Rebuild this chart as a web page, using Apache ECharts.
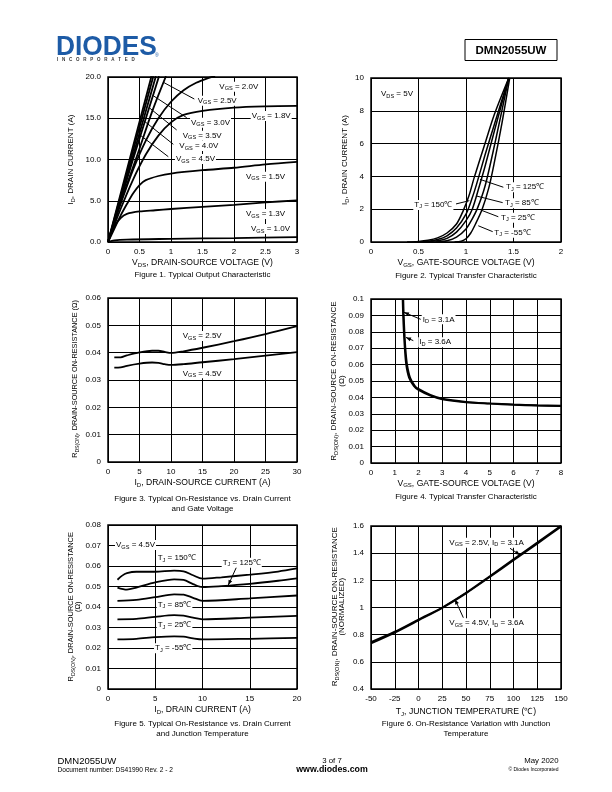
<!DOCTYPE html>
<html><head><meta charset="utf-8">
<script src="https://cdn.jsdelivr.net/npm/echarts@6/dist/echarts.min.js"></script>
<style>html,body{margin:0;padding:0;background:#fff}#c{width:612px;height:792px}</style>
</head><body><div id="c"></div>
<script>
const F = 'Liberation Sans, Arial, Helvetica, sans-serif';

// ---------- Figure 1: ID vs VDS ----------
const f1_vgs10 = [[0,0],[0.1,0.2],[0.3,0.3],[1,0.38],[2,0.48],[3,0.58]];
const f1_vgs13 = [[0,0],[0.05,1.0],[0.1,1.9],[0.2,2.9],[0.3,3.4],[0.5,3.7],[0.75,3.85],[1,4.0],[1.5,4.25],[2,4.5],[2.5,4.8],[3,5.05]];
const f1_vgs15 = [[0,0],[0.1,1.6],[0.2,3.2],[0.3,4.6],[0.4,5.9],[0.5,6.9],[0.6,7.5],[0.8,8.0],[1,8.3],[1.5,8.7],[2,9.0],[2.5,9.4],[3,9.7]];
const f1_vgs18 = [[0,0],[0.2,4.0],[0.4,7.6],[0.6,10.6],[0.8,12.9],[1,14.5],[1.2,15.4],[1.5,15.9],[2,16.3],[2.5,16.45],[3,16.5]];
const f1_vgs20 = [[0,0],[0.2,4.6],[0.4,8.8],[0.6,12.3],[0.8,15.0],[1,17.0],[1.2,18.4],[1.4,19.3],[1.6,19.9],[1.7,20.1]];
const f1_vgs25 = [[0,0],[0.2,4.8],[0.45,10.2],[0.7,15.8],[0.92,20.1]];
const f1_vgs30 = [[0,0],[0.4,10.1],[0.81,20.1]];
const f1_vgs35 = [[0,0],[0.38,10.0],[0.76,20.1]];
const f1_vgs40 = [[0,0],[0.36,10.0],[0.72,20.1]];
const f1_vgs45 = [[0,0],[0.35,10.2],[0.69,20.1]];

// ---------- Figure 2: ID vs VGS ----------
const f2_tj150 = [[0.38,0],[0.5,0.03],[0.6,0.1],[0.7,0.25],[0.8,0.55],[0.9,1.1],[0.97,1.9],[1.03,2.8],[1.09,4.0],[1.2,6.0],[1.3,7.8],[1.45,10]];
const f2_tj125 = [[0.45,0],[0.6,0.05],[0.7,0.15],[0.8,0.38],[0.9,0.85],[1.0,1.7],[1.06,2.6],[1.11,3.5],[1.2,5.3],[1.3,7.2],[1.45,10]];
const f2_tj85  = [[0.55,0],[0.7,0.07],[0.8,0.22],[0.9,0.6],[1.0,1.3],[1.066,2.0],[1.14,3.4],[1.2,4.6],[1.3,6.8],[1.45,10]];
const f2_tj25  = [[0.68,0],[0.8,0.08],[0.9,0.3],[1.0,0.8],[1.06,1.35],[1.12,2.05],[1.2,3.4],[1.3,5.9],[1.45,10]];
const f2_tjm55 = [[0.88,0],[0.95,0.05],[1.0,0.2],[1.05,0.55],[1.1,1.1],[1.17,2.0],[1.24,3.3],[1.3,4.9],[1.38,7.3],[1.46,10]];

// ---------- Figure 3: RDS(on) vs ID ----------
const f3_vgs25 = [[1,0.0383],[2,0.0383],[3,0.039],[5,0.0401],[7,0.0407],[8,0.0407],[9,0.0403],[10,0.0399],[12,0.0405],[15,0.0418],[20,0.0442],[25,0.0468],[30,0.0497]];
const f3_vgs45 = [[1,0.0345],[2,0.0346],[3,0.0352],[5,0.036],[7,0.0364],[8,0.0363],[9,0.0358],[10,0.0355],[12,0.0358],[15,0.0365],[20,0.0376],[25,0.0389],[30,0.0402]];

// ---------- Figure 4: RDS(on) vs VGS ----------
const f4_id31 = [[1.33,0.1],[1.35,0.09],[1.38,0.08],[1.42,0.07],[1.48,0.06],[1.6,0.052],[1.8,0.047],[2,0.0445],[2.5,0.041],[3,0.0388],[4,0.037],[5,0.0362],[6,0.0355],[7,0.035],[8,0.0347]];
const f4_id36 = [[1.36,0.1],[1.38,0.09],[1.41,0.08],[1.45,0.07],[1.52,0.06],[1.65,0.052],[1.85,0.047],[2,0.0452],[2.5,0.0415],[3,0.0392],[4,0.0373],[5,0.0364],[6,0.0357],[7,0.0352],[8,0.0349]];

// ---------- Figure 5: RDS(on) vs ID, TJ ----------
const f5_tj150 = [[1,0.0533],[1.5,0.0553],[2,0.0565],[3,0.0572],[5,0.0572],[7,0.0577],[8,0.0574],[9,0.0555],[10,0.0538],[12,0.0545],[15,0.0558],[18,0.0573],[20,0.0588]];
const f5_tj125 = [[1,0.0495],[2,0.0485],[3,0.0495],[5,0.052],[7,0.0535],[8,0.0532],[9,0.0512],[10,0.0497],[12,0.0502],[15,0.0513],[18,0.0528],[20,0.054]];
const f5_tj85  = [[1,0.043],[3,0.0435],[5,0.0448],[7,0.0462],[8,0.046],[9,0.0445],[10,0.043],[15,0.0442],[20,0.0456]];
const f5_tj25  = [[1,0.034],[3,0.0342],[5,0.0352],[7,0.036],[8,0.0358],[9,0.0348],[10,0.034],[15,0.0348],[20,0.0357]];
const f5_tjm55 = [[1,0.0242],[3,0.0245],[5,0.0253],[7,0.0257],[8,0.0255],[9,0.0247],[10,0.0242],[15,0.0245],[20,0.0249]];

// ---------- Figure 6: normalized RDS(on) vs TJ ----------
const f6_vgs25 = [[-50,0.745],[-25,0.822],[0,0.912],[25,1.0],[50,1.108],[75,1.23],[100,1.355],[125,1.478],[150,1.602]];
const f6_vgs45 = [[-50,0.735],[-25,0.815],[0,0.905],[25,0.997],[50,1.104],[75,1.224],[100,1.347],[125,1.47],[150,1.595]];

// annotation anchors (data coordinates): [text, x, y]
const f1_labels = [['V_{GS} = 2.0V',1.751,18.82],['V_{GS} = 2.5V',1.408,17.13],['V_{GS} = 3.0V',1.302,14.46],['V_{GS} = 3.5V',1.17,12.88],['V_{GS} = 4.0V',1.116,11.64],['V_{GS} = 4.5V',1.063,10.06],['V_{GS} = 1.8V',2.265,15.27],['V_{GS} = 1.5V',2.175,7.92],['V_{GS} = 1.3V',2.175,3.39],['V_{GS} = 1.0V',2.254,1.58]];
const f1_leaders = [[1.37,17.33,0.878,19.36],[1.249,15.07,0.719,17.73],[1.09,13.58,0.667,16.2],[1.037,11.84,0.587,14.58],[0.957,10.34,0.508,12.97]];
const f2_labels = [['V_{DS} = 5V',0.095,9.02],['T_{J} = 125℃',1.411,3.34],['T_{J} = 85℃',1.4,2.36],['T_{J} = 25℃',1.358,1.48],['T_{J} = -55℃',1.287,0.57],['T_{J} = 150℃',0.445,2.26]];
const f2_leaders = [[1.393,3.34,1.147,3.82],[1.386,2.40,1.113,2.80],[1.34,1.54,1.155,1.95],[1.281,0.63,1.129,0.99],[0.895,2.32,1.035,2.52]];
const f3_labels = [['V_{GS} = 2.5V',11.7,0.0461],['V_{GS} = 4.5V',11.7,0.03245]];
const f4_labels = [['I_{D} = 3.1A',2.135,0.0876],['I_{D} = 3.6A',1.99,0.0736]];
const f4_arrows = [[2.093,0.0876,1.389,0.0919],[1.781,0.0746,1.474,0.0766]];
const f5_labels = [['V_{GS} = 4.5V',0.741,0.0702],['T_{J} = 150℃',5.15,0.0638],['T_{J} = 125℃',12.03,0.0616],['T_{J} = 85℃',5.15,0.041],['T_{J} = 25℃',5.15,0.0312],['T_{J} = -55℃',4.87,0.0199]];
const f5_arrows = [[13.62,0.0597,12.73,0.0507]];
const f6_labels = [['V_{GS} = 2.5V, I_{D} = 3.1A',31.4,1.477],['V_{GS} = 4.5V, I_{D} = 3.6A',31.4,0.884]];
const f6_arrows = [[96.3,1.436,106.8,1.387],[47.2,0.925,38.4,1.06]];

const chart = echarts.init(document.getElementById('c'), null, {renderer:'canvas'});

const grids = [
  {left:108, top:77, width:189, height:165},
  {left:371, top:78, width:190, height:164},
  {left:108, top:298, width:189, height:164},
  {left:371, top:299, width:190, height:164},
  {left:108, top:525, width:189, height:164},
  {left:371, top:526, width:190, height:163}
].map(g => Object.assign(g, {show:true, borderColor:'#000', borderWidth:1.5, backgroundColor:'transparent', containLabel:false}));

function ax(gi, min, max, interval, isX, fmt){
  const a = {gridIndex:gi, type:'value', min:min, max:max, interval:interval,
    axisLine:{show:false}, axisTick:{show:false},
    splitLine:{show:true, lineStyle:{color:'#000', width:1}},
    axisLabel:{fontSize:8, color:'#000', fontFamily:F, margin: isX ? 6 : 7}};
  if (fmt) a.axisLabel.formatter = fmt;
  return a;
}
const xAxis = [ax(0,0,3,0.5,true), ax(1,0,2,0.5,true), ax(2,0,30,5,true), ax(3,0,8,1,true), ax(4,0,20,5,true), ax(5,-50,150,25,true)];
const yAxis = [ax(0,0,20,5,false,v=>v.toFixed(1)), ax(1,0,10,2,false), ax(2,0,0.06,0.01,false), ax(3,0,0.1,0.01,false), ax(4,0,0.08,0.01,false), ax(5,0.4,1.6,0.2,false)];

function ln(gi, data, w, sm){
  return {type:'line', xAxisIndex:gi, yAxisIndex:gi, data:data, symbol:'none', showSymbol:false,
    smooth: sm === undefined ? 0.3 : sm, lineStyle:{color:'#000', width:w||1.8}, silent:true, z:3, clip:true};
}
const series = [
  ln(0,f1_vgs10),ln(0,f1_vgs13),ln(0,f1_vgs15),ln(0,f1_vgs18),ln(0,f1_vgs20),ln(0,f1_vgs25),ln(0,f1_vgs30,1.8,0),ln(0,f1_vgs35,1.8,0),ln(0,f1_vgs40,1.8,0),ln(0,f1_vgs45,1.8,0),
  ln(1,f2_tj150,1.5),ln(1,f2_tj125,1.5),ln(1,f2_tj85,1.5),ln(1,f2_tj25,1.5),ln(1,f2_tjm55,1.5),
  ln(2,f3_vgs25),ln(2,f3_vgs45),
  ln(3,f4_id31),ln(3,f4_id36),
  ln(4,f5_tj150),ln(4,f5_tj125),ln(4,f5_tj85),ln(4,f5_tj25),ln(4,f5_tjm55),
  ln(5,f6_vgs25),ln(5,f6_vgs45)
];

chart.setOption({backgroundColor:'#fff', animation:false, grid:grids, xAxis:xAxis, yAxis:yAxis, series:series});

// ---------- text helpers ----------
function rich(fs){
  return {n:{fontSize:fs, fontFamily:F, color:'#000', lineHeight:fs+2},
          s:{fontSize:fs*0.7, fontFamily:F, color:'#000', verticalAlign:'bottom'}};
}
function rt(str){
  const parts = str.split(/_\{([^}]*)\}/);
  let out = '';
  parts.forEach((p,i) => { if (p === '') return; out += (i % 2 ? '{s|' : '{n|') + p + '}'; });
  return out;
}
const G = [];
function txt(str, x, y, o){
  o = o || {};
  const fs = o.fs || 8;
  const el = {type:'text', x:x, y:y, z:100, rotation:o.rot||0,
    style:{text:rt(str), rich:rich(fs), align:o.align||'center', verticalAlign:'middle'}};
  if (o.bg) { el.style.backgroundColor = '#fff'; el.style.padding = [0,1]; }
  G.push(el);
}
function P(gi, x, y){ return chart.convertToPixel({gridIndex:gi}, [x,y]); }
function addLabels(gi, arr, align){
  arr.forEach(a => { const p = P(gi, a[1], a[2]); txt(a[0], p[0], p[1], {align:align||'left', bg:true}); });
}
function addLines(gi, arr, arrow){
  arr.forEach(a => {
    const t = P(gi, a[0], a[1]), h = P(gi, a[2], a[3]);
    G.push({type:'line', z:99, shape:{x1:t[0], y1:t[1], x2:h[0], y2:h[1]}, style:{stroke:'#000', lineWidth:1}});
    if (arrow) {
      const dx = h[0]-t[0], dy = h[1]-t[1], L = Math.hypot(dx,dy), ux = dx/L, uy = dy/L;
      const len = 5, w = 2;
      G.push({type:'polygon', z:99, shape:{points:[[h[0],h[1]],[h[0]-len*ux-w*uy, h[1]-len*uy+w*ux],[h[0]-len*ux+w*uy, h[1]-len*uy-w*ux]]}, style:{fill:'#000'}});
    }
  });
}
addLines(0, f1_leaders, false); addLabels(0, f1_labels);
addLines(1, f2_leaders, false); addLabels(1, f2_labels);
addLabels(2, f3_labels);
addLines(3, f4_arrows, true); addLabels(3, f4_labels);
addLines(4, f5_arrows, true); addLabels(4, f5_labels);
addLines(5, f6_arrows, true); addLabels(5, f6_labels);

const R90 = Math.PI/2;
const XT = 8.6;
// axis titles & captions
txt('I_{D}, DRAIN CURRENT (A)', 71, 159.5, {rot:R90});
txt('V_{DS}, DRAIN-SOURCE VOLTAGE (V)', 202.5, 262.7, {fs:XT});
txt('Figure 1. Typical Output Characteristic', 202.5, 275);
txt('I_{D}, DRAIN CURRENT (A)', 345, 160, {rot:R90});
txt('V_{GS}, GATE-SOURCE VOLTAGE (V)', 466, 262.7, {fs:XT});
txt('Figure 2. Typical Transfer Characteristic', 466, 275.7);
txt('R_{DS(ON)}, DRAIN-SOURCE ON-RESISTANCE (Ω)', 75, 379, {rot:R90, fs:7.3});
txt('I_{D}, DRAIN-SOURCE CURRENT (A)', 202.5, 482.7, {fs:XT});
txt('Figure 3. Typical On-Resistance vs. Drain Current', 202.5, 498.3);
txt('and Gate Voltage', 202.5, 508.3);
txt('R_{DS(ON)}, DRAIN-SOURCE ON-RESISTANCE', 334, 381, {rot:R90});
txt('(Ω)', 341.5, 381, {rot:R90});
txt('V_{GS}, GATE-SOURCE VOLTAGE (V)', 466, 483.3, {fs:XT});
txt('Figure 4. Typical Transfer Characteristic', 466, 496.7);
txt('R_{DS(ON)}, DRAIN-SOURCE ON-RESISTANCE', 71, 606.7, {rot:R90, fs:7.5});
txt('(Ω)', 77.5, 606.7, {rot:R90, fs:7.5});
txt('I_{D}, DRAIN CURRENT (A)', 202.5, 710, {fs:XT});
txt('Figure 5. Typical On-Resistance vs. Drain Current', 202.5, 724);
txt('and Junction Temperature', 202.5, 733.3);
txt('R_{DS(ON)}, DRAIN-SOURCE ON-RESISTANCE', 335, 606.7, {rot:R90});
txt('(NORMALIZED)', 342, 606.7, {rot:R90});
txt('T_{J}, JUNCTION TEMPERATURE (℃)', 466, 711.7, {fs:XT});
txt('Figure 6. On-Resistance Variation with Junction', 466, 724);
txt('Temperature', 466, 734);

// header
G.push({type:'text', x:56, y:33, scaleX:0.94, z:100, style:{text:'DIODES', font:'bold 28px '+F, fill:'#1d5ba6', align:'left', verticalAlign:'top'}});
G.push({type:'text', x:57, y:59.5, z:100, style:{text:'I   N   C   O   R   P   O   R   A   T   E   D', font:'bold 4.5px '+F, fill:'#333', align:'left', verticalAlign:'middle'}});
G.push({type:'text', x:155, y:56, z:100, style:{text:'®', font:'5px '+F, fill:'#1d5ba6', align:'left', verticalAlign:'middle'}});
G.push({type:'rect', z:100, shape:{x:465, y:39.5, width:92, height:21}, style:{fill:'#fff', stroke:'#000', lineWidth:1}});
G.push({type:'text', x:511, y:50.5, z:101, style:{text:'DMN2055UW', font:'bold 11.5px '+F, fill:'#000', align:'center', verticalAlign:'middle'}});
// footer
G.push({type:'text', x:57.5, y:761, z:100, style:{text:'DMN2055UW', font:'9.5px '+F, fill:'#000', align:'left', verticalAlign:'middle'}});
G.push({type:'text', x:57.5, y:770, z:100, style:{text:'Document number: DS41990 Rev. 2 - 2', font:'6.6px '+F, fill:'#000', align:'left', verticalAlign:'middle'}});
G.push({type:'text', x:332, y:761, z:100, style:{text:'3 of 7', font:'7.8px '+F, fill:'#000', align:'center', verticalAlign:'middle'}});
G.push({type:'text', x:332, y:770, z:100, style:{text:'www.diodes.com', font:'bold 8.8px '+F, fill:'#000', align:'center', verticalAlign:'middle'}});
G.push({type:'text', x:558.5, y:761, z:100, style:{text:'May 2020', font:'7.8px '+F, fill:'#000', align:'right', verticalAlign:'middle'}});
G.push({type:'text', x:558.5, y:770, z:100, style:{text:'© Diodes Incorporated', font:'5px '+F, fill:'#000', align:'right', verticalAlign:'middle'}});

chart.setOption({graphic:{elements:G}});
</script></body></html>
